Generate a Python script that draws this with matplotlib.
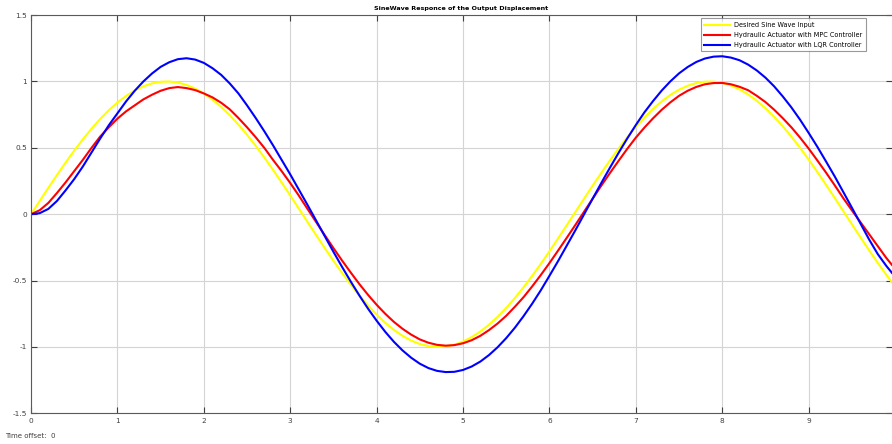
import numpy as np
import matplotlib
matplotlib.use("Agg")
import matplotlib.pyplot as plt

# tiempo de simulacion (s), paso 0.1
t = [round(0.1 * k, 1) for k in range(101)]

# entrada senoidal deseada
desired = [0.0, 0.0998, 0.1987, 0.2955, 0.3894, 0.4794, 0.5646, 0.6442, 0.7174, 0.7833,
           0.8415, 0.8912, 0.9320, 0.9636, 0.9854, 0.9975, 0.9996, 0.9917, 0.9738, 0.9463,
           0.9093, 0.8632, 0.8085, 0.7457, 0.6755, 0.5985, 0.5155, 0.4274, 0.3350, 0.2392,
           0.1411, 0.0416, -0.0584, -0.1577, -0.2555, -0.3508, -0.4425, -0.5298, -0.6119, -0.6878,
           -0.7568, -0.8183, -0.8716, -0.9162, -0.9516, -0.9775, -0.9937, -0.9999, -0.9962, -0.9825,
           -0.9589, -0.9258, -0.8835, -0.8323, -0.7728, -0.7055, -0.6313, -0.5507, -0.4646, -0.3739,
           -0.2794, -0.1822, -0.0831, 0.0168, 0.1165, 0.2151, 0.3115, 0.4048, 0.4941, 0.5784,
           0.6570, 0.7290, 0.7937, 0.8504, 0.8987, 0.9380, 0.9679, 0.9882, 0.9985, 0.9989,
           0.9894, 0.9699, 0.9407, 0.9022, 0.8546, 0.7985, 0.7344, 0.6630, 0.5849, 0.5010,
           0.4121, 0.3191, 0.2229, 0.1245, 0.0248, -0.0752, -0.1743, -0.2718, -0.3665, -0.4575,
           -0.5440]

# respuesta con controlador MPC
mpc = [0.0, 0.03, 0.085, 0.16, 0.24, 0.325, 0.41, 0.50, 0.585, 0.655,
       0.72, 0.775, 0.82, 0.865, 0.90, 0.93, 0.95, 0.958, 0.95, 0.935,
       0.91, 0.88, 0.84, 0.79, 0.725, 0.655, 0.58, 0.50, 0.41, 0.325,
       0.235, 0.14, 0.04, -0.059, -0.158, -0.255, -0.349, -0.439, -0.526, -0.607,
       -0.682, -0.750, -0.811, -0.863, -0.907, -0.943, -0.968, -0.984, -0.99, -0.986,
       -0.972, -0.949, -0.916, -0.873, -0.823, -0.765, -0.697, -0.625, -0.544, -0.458,
       -0.368, -0.274, -0.178, -0.081, 0.018, 0.117, 0.215, 0.310, 0.402, 0.492,
       0.577, 0.653, 0.723, 0.787, 0.843, 0.892, 0.930, 0.959, 0.979, 0.988,
       0.989, 0.979, 0.960, 0.934, 0.892, 0.845, 0.788, 0.724, 0.655, 0.578,
       0.495, 0.406, 0.315, 0.220, 0.122, 0.03, -0.06, -0.15, -0.24, -0.33,
       -0.41]

# respuesta con controlador LQR
lqr = [0.0, 0.008, 0.04, 0.10, 0.18, 0.265, 0.36, 0.465, 0.57, 0.67,
       0.76, 0.85, 0.93, 1.00, 1.06, 1.11, 1.145, 1.168, 1.175, 1.165,
       1.14, 1.10, 1.05, 0.985, 0.91, 0.82, 0.725, 0.625, 0.52, 0.41,
       0.30, 0.185, 0.07, -0.048, -0.166, -0.283, -0.397, -0.507, -0.612, -0.711,
       -0.802, -0.886, -0.961, -1.026, -1.081, -1.126, -1.159, -1.180, -1.189, -1.187,
       -1.173, -1.147, -1.110, -1.061, -1.002, -0.933, -0.855, -0.768, -0.674, -0.573,
       -0.464, -0.353, -0.237, -0.121, -0.002, 0.117, 0.235, 0.350, 0.462, 0.570,
       0.672, 0.768, 0.853, 0.932, 1.001, 1.061, 1.109, 1.147, 1.173, 1.187,
       1.19, 1.180, 1.160, 1.127, 1.083, 1.029, 0.964, 0.888, 0.805, 0.713,
       0.613, 0.509, 0.399, 0.287, 0.169, 0.05, -0.07, -0.19, -0.30, -0.39,
       -0.47]

x_ticks = [0, 1, 2, 3, 4, 5, 6, 7, 8, 9]
y_ticks = [-1.5, -1, -0.5, 0, 0.5, 1, 1.5]
y_labels = ["-1.5", "-1", "-0.5", "0", "0.5", "1", "1.5"]

fig = plt.figure(figsize=(8.92, 4.44), dpi=100)
ax = fig.add_axes([0.0348, 0.069, 0.9652, 0.897])

ax.plot(t, desired, color="#FFFF00", lw=1.5, label="Desired Sine Wave Input")
ax.plot(t, mpc, color="#FF0000", lw=1.5, label="Hydraulic Actuator with MPC Controller")
ax.plot(t, lqr, color="#0000FF", lw=1.5, label="Hydraulic Actuator with LQR Controller")

ax.set_xlim(0, 9.965)
ax.set_ylim(-1.5, 1.5)
ax.set_xticks(x_ticks)
ax.set_yticks(y_ticks)
ax.set_yticklabels(y_labels)
ax.grid(True, color="#d4d4d4", lw=0.8)
ax.tick_params(direction="in", length=4, width=0.8, labelsize=5.3,
               colors="#404040", top=True, right=True, pad=3)
for s in ["left", "bottom", "top"]:
    ax.spines[s].set_color("#5a5a5a")
    ax.spines[s].set_linewidth(0.8)
ax.spines["right"].set_visible(False)

ax.set_title("SineWave Responce of the Output Displacement",
             fontsize=4.6, fontweight="bold", pad=4)

leg = ax.legend(loc="upper right", bbox_to_anchor=(0.9698, 0.9917), fontsize=4.7,
                frameon=True, fancybox=False, edgecolor="#808080",
                handlelength=4.0, borderpad=0.55, labelspacing=0.6,
                handletextpad=0.6, borderaxespad=0)
leg.get_frame().set_linewidth(0.8)

fig.text(0.006, 0.014, "Time offset:  0", fontsize=5, color="#404040")

fig.savefig("out.png", dpi=100)
